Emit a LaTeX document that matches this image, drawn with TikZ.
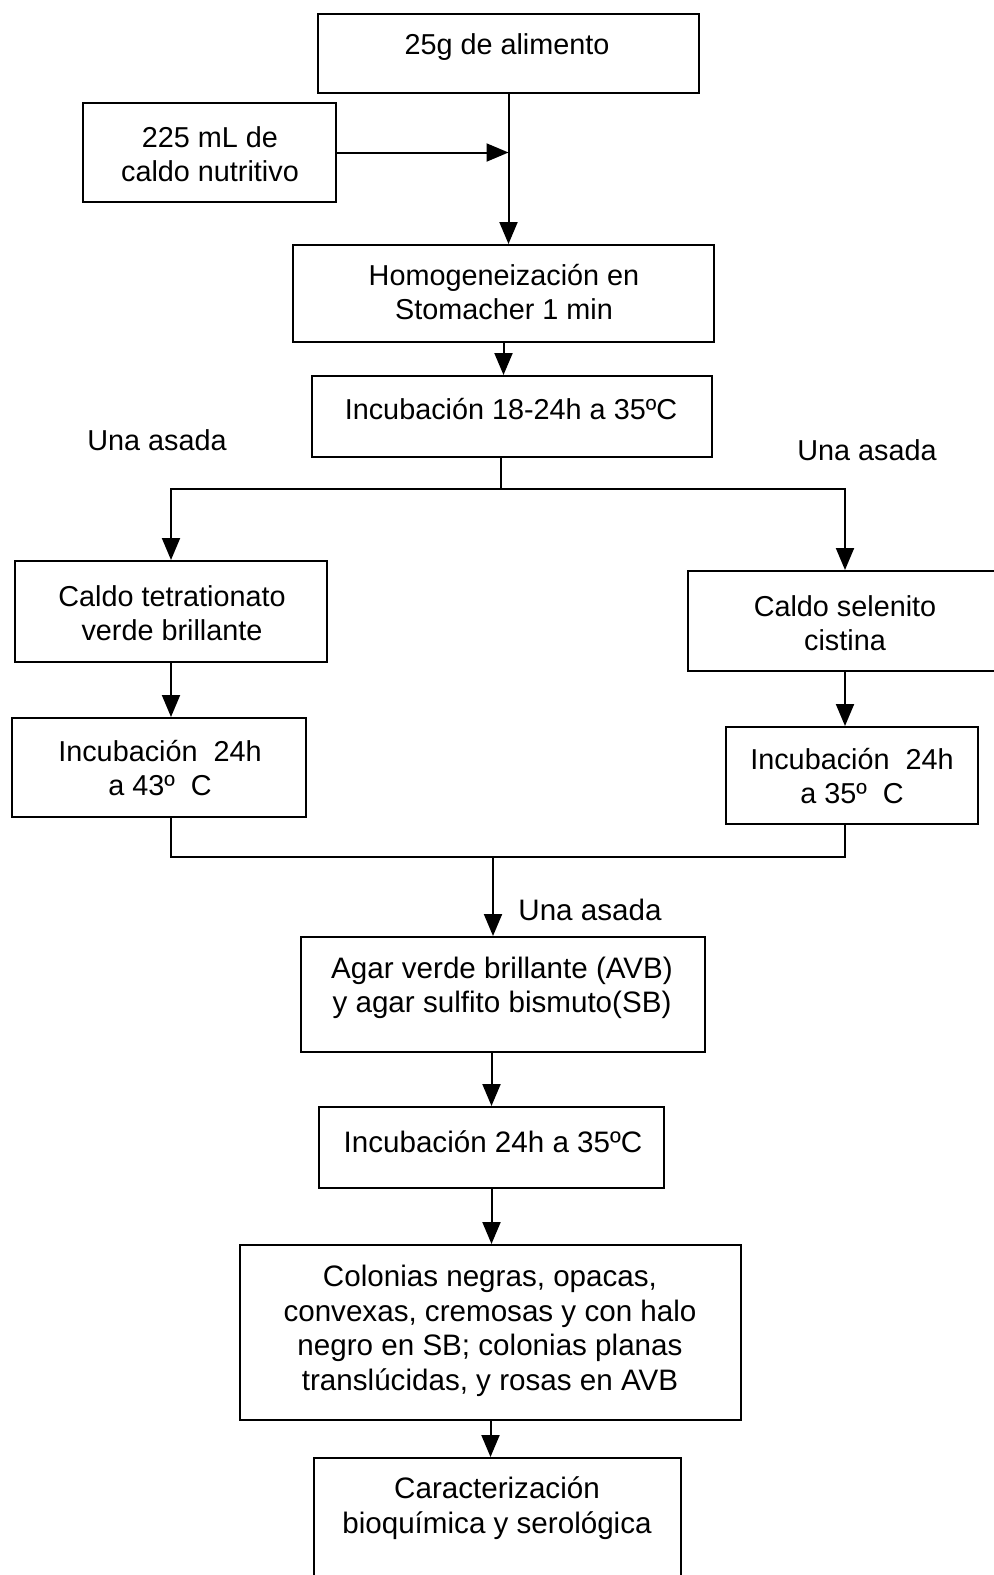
\documentclass[tikz,border=0pt]{standalone}
\usepackage{fontspec}
\setmainfont{Liberation Sans}
\usetikzlibrary{arrows.meta,fit}

\begin{document}
\begin{tikzpicture}[x=0.5pt,y=-0.5pt,
  box/.style={draw, line width=1pt, inner sep=0pt},
  txt/.style={align=center, inner sep=0pt, font=\fontsize{14.4}{17}\selectfont},
  wide/.style={font=\fontsize{14.8}{17.3}\selectfont},
  link/.style={line width=1pt},
  arr/.style={line width=1pt, -{Triangle[length=11pt,width=9pt]}}]

% page frame
\fill[white] (0,0) rectangle (993,1575);
\useasboundingbox (0,0) rectangle (993,1575);

% process boxes
\node[box, fit={(318,14) (699,93)}] (A) {};
\node[box, fit={(83,103) (336,202)}] (B) {};
\node[box, fit={(293,245) (714,342)}] (C) {};
\node[box, fit={(312,376) (712,457)}] (D) {};
\node[box, fit={(15,561) (327,662)}] (E) {};
\node[box, fit={(688,571) (1002,671)}] (F) {};
\node[box, fit={(12,718) (306,817)}] (G) {};
\node[box, fit={(726,727) (978,824)}] (H) {};
\node[box, fit={(301,937) (705,1052)}] (I) {};
\node[box, fit={(319,1107) (664,1188)}] (J) {};
\node[box, fit={(240,1245) (741,1420)}] (K) {};
\node[box, fit={(314,1458) (681,1600)}] (L) {};

% box texts
\node[txt] (tA) at (507,47) {25g de alimento};
\node[txt] (tB) at (210,154) {225 mL de\\caldo nutritivo};
\node[txt] (tC) at (504,292) {Homogeneización en\\Stomacher 1 min};
\node[txt] (tD) at (511,409) {Incubación 18-24h a 35ºC};
\node[txt] (tE) at (172,613) {Caldo tetrationato\\verde brillante};
\node[txt] (tF) at (845,623) {Caldo selenito\\cistina};
\node[txt] (tG) at (160,768) {Incubación~~24h\\a 43º~~C};
\node[txt] (tH) at (852,776) {Incubación~~24h\\a 35º~~C};
\node[txt, wide] (tI) at (502,988) {Agar verde brillante (AVB)\\y agar sulfito bismuto(SB)};
\node[txt, wide] (tJ) at (493,1142) {Incubación 24h a 35ºC};
\node[txt, wide] (tK) at (490,1331) {Colonias negras, opacas,\\convexas, cremosas y con halo\\negro en SB; colonias planas\\translúcidas, y rosas en AVB};
\node[txt, wide] (tL) at (497,1508) {Caracterización\\bioquímica y serológica};

% side labels
\node[txt] (u1) at (157,440) {Una asada};
\node[txt] (u2) at (867,450) {Una asada};
\node[txt, wide] (u3) at (590,910) {Una asada};

% junctions
\coordinate (j1) at (A.south |- B.east);
\coordinate (s1) at (501,489);
\coordinate (m1) at (493,857);

% connectors
\draw[arr] (A.south) -- (A.south |- C.north);
\draw[arr] (B.east) -- (j1);
\draw[arr] (C.south) -- (C.south |- D.north);
\draw[link] (D.south -| s1) -- (s1);
\draw[arr] (s1) -| (E.north);
\draw[arr] (s1) -| (F.north);
\draw[arr] (E.south) -- (E.south |- G.north);
\draw[arr] (F.south) -- (F.south |- H.north);
\draw[link] (E.south |- G.south) |- (m1) -| (F.south |- H.south);
\draw[arr] (m1) -- (m1 |- I.north);
\draw[arr] (J.north |- I.south) -- (J.north);
\draw[arr] (J.south) -- (J.south |- K.north);
\draw[arr] (K.south) -- (K.south |- L.north);
\end{tikzpicture}
\end{document}
